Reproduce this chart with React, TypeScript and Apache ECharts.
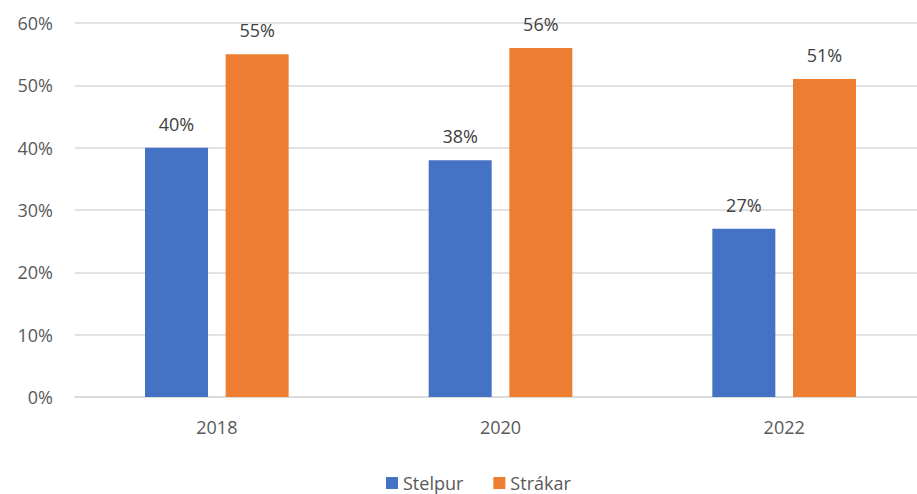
import React, { useEffect, useRef } from "react";
import * as echarts from "echarts";

const categories = ["2018", "2020", "2022"];
const stelpur = [40, 38, 27];
const strakar = [55, 56, 51];
const yTicks = [0, 10, 20, 30, 40, 50, 60];

export default function App() {
  const ref = useRef<HTMLDivElement>(null);
  useEffect(() => {
    if (!ref.current) return;
    const chart = echarts.init(ref.current, null, { renderer: "svg" });
    const font = "'Open Sans', 'Noto Sans', sans-serif";
    const textColor = "#595959";
    const labelCfg = {
      show: true,
      position: "top",
      distance: 15,
      fontSize: 18,
      color: "#404040",
      fontFamily: font,
      formatter: (p: any) => p.value + "%",
    };
    chart.setOption({
      animation: false,
      backgroundColor: "#ffffff",
      textStyle: { fontFamily: font },
      grid: { left: 75, top: 23, width: 851, bottom: 97, containLabel: false },
      legend: {
        left: 381,
        top: 468,
        itemWidth: 12,
        itemHeight: 12,
        itemGap: 30,
        icon: "rect",
        textStyle: { fontSize: 18, lineHeight: 20, color: textColor, fontFamily: font },
        data: ["Stelpur", "Strákar"],
      },
      xAxis: {
        type: "category",
        data: categories,
        axisLine: { show: true, lineStyle: { color: "#d9d9d9", width: 1.5 } },
        axisTick: { show: false },
        axisLabel: { fontSize: 18, color: textColor, margin: 21, fontFamily: font },
      },
      yAxis: {
        type: "value",
        min: yTicks[0],
        max: yTicks[yTicks.length - 1],
        interval: 10,
        axisLine: { show: false },
        axisTick: { show: false },
        splitLine: { lineStyle: { color: "#d9d9d9", width: 1.5 } },
        axisLabel: {
          fontSize: 18,
          color: textColor,
          margin: 22,
          fontFamily: font,
          formatter: (v: number) => v + "%",
        },
      },
      series: [
        {
          name: "Stelpur",
          type: "bar",
          data: stelpur,
          barWidth: 63,
          barGap: "28%",
          itemStyle: { color: "#4472C4" },
          label: labelCfg,
        },
        {
          name: "Strákar",
          type: "bar",
          data: strakar,
          barWidth: 63,
          barGap: "28%",
          itemStyle: { color: "#ED7D31" },
          label: labelCfg,
        },
      ],
    });
    return () => chart.dispose();
  }, []);
  return (
    <div
      style={{
        position: "absolute",
        left: 0,
        top: 0,
        width: 917,
        height: 494,
        overflow: "hidden",
        background: "#ffffff",
      }}
    >
      <div ref={ref} style={{ width: 930, height: 494 }} />
    </div>
  );
}
